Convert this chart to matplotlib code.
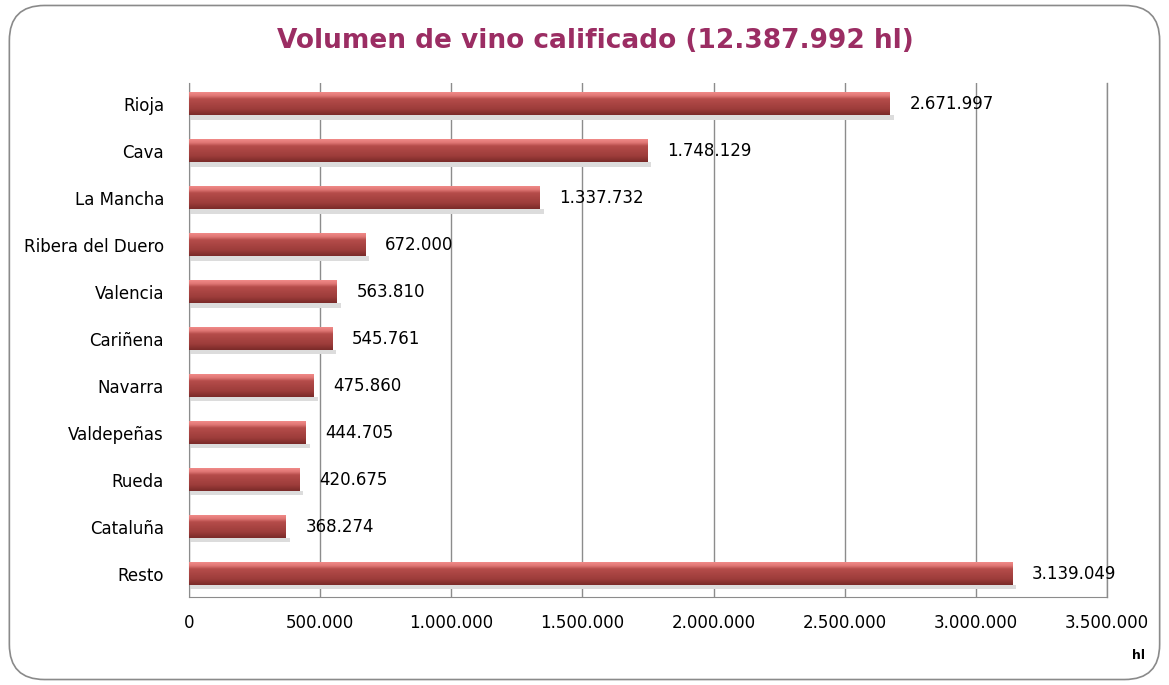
import numpy as np
import matplotlib.pyplot as plt
from matplotlib.patches import FancyBboxPatch
from matplotlib.colors import LinearSegmentedColormap

regiones = ['Rioja', 'Cava', 'La Mancha', 'Ribera del Duero', 'Valencia', 'Cariñena',
            'Navarra', 'Valdepeñas', 'Rueda', 'Cataluña', 'Resto']
volumen = [2671997, 1748129, 1337732, 672000, 563810, 545761,
           475860, 444705, 420675, 368274, 3139049]
ticks_x = [0, 500000, 1000000, 1500000, 2000000, 2500000, 3000000, 3500000]


def fmt(v):
    return '{:,}'.format(v).replace(',', '.')


fig = plt.figure(figsize=(11.69, 6.85), dpi=100)
fig.patch.set_facecolor('white')
fig.patches.append(FancyBboxPatch((0.008, 0.008), 0.984, 0.984,
                                  boxstyle='round,pad=0,rounding_size=0.03',
                                  transform=fig.transFigure, facecolor='none',
                                  edgecolor='#8a8a8a', linewidth=1.2, mutation_aspect=1169/685))

ax = fig.add_axes([0.1617, 0.1285, 0.947 - 0.1617, 0.879 - 0.1285])
ax.set_xlim(0, 3500000)
ax.set_ylim(10.5, -0.45)

# degradado vertical de la barra (arriba claro, abajo oscuro)
cmap = LinearSegmentedColormap.from_list('barra', [
    (0.0, '#f08a88'), (0.15, '#e07674'), (0.3, '#b54c4a'),
    (0.75, '#9c3c3a'), (1.0, '#7a2a29')])
grad = np.linspace(0, 1, 64).reshape(-1, 1)
h = 0.47
for i, v in enumerate(volumen):
    # sombra
    ax.fill_between([0, v + 15000], i + h / 2, i + h / 2 + 0.1, color='#dcdcdc', zorder=2, linewidth=0)
    ax.imshow(grad, cmap=cmap, aspect='auto', extent=(0, v, i + h / 2, i - h / 2),
              zorder=3, interpolation='bilinear')
    ax.text(v + 75000, i, fmt(v), va='center', ha='left', fontsize=12, color='black', zorder=4)

ax.set_yticks(range(len(regiones)))
ax.set_yticklabels(regiones, fontsize=12)
ax.set_xticks(ticks_x)
ax.set_xticklabels([fmt(t) for t in ticks_x], fontsize=12)
ax.tick_params(length=0, pad=12)
ax.tick_params(axis='y', pad=18)
ax.xaxis.grid(True, color='#8c8c8c', linewidth=1)
ax.axvline(3500000, color='#8c8c8c', linewidth=1, clip_on=False, zorder=0)
ax.set_axisbelow(True)
for s in ['top', 'right']:
    ax.spines[s].set_visible(False)
ax.spines['left'].set_color('#8c8c8c')
ax.spines['bottom'].set_color('#8c8c8c')

fig.text(0.509, 0.94, 'Volumen de vino calificado (12.387.992 hl)', ha='center', va='center',
         fontsize=19, fontweight='bold', color='#9b2d63')
fig.text(0.9735, 0.043, 'hl', ha='center', va='center', fontsize=9, fontweight='bold')

fig.savefig('out.png', dpi=100)
